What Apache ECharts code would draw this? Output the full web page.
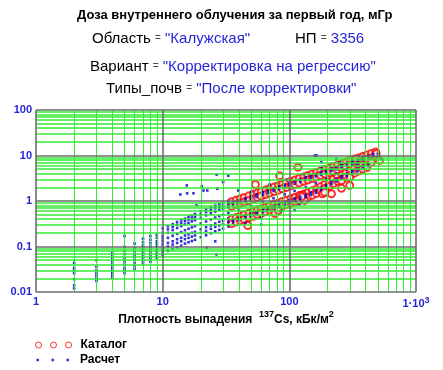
<!DOCTYPE html>
<html>
<head>
<meta charset="utf-8">
<script src="https://cdn.jsdelivr.net/npm/echarts@6/dist/echarts.min.js"></script>
<style>
html,body{margin:0;padding:0;background:#fff;}
#c{width:443px;height:370px;}
</style>
</head>
<body>
<div id="c"></div>
<script>
// ---------- texts ----------
const titleMain = 'Доза внутреннего облучения за первый год, мГр';
const regionKey = 'Область', regionVal = '"Калужская"';
const npKey = 'НП', npVal = '3356';
const variantKey = 'Вариант', variantVal = '"Корректировка на регрессию"';
const soilKey = 'Типы_почв', soilVal = '"После корректировки"';
const seriesNames = ['Каталог', 'Расчет'];

// ---------- tick labels ----------
const xTickValues = [1, 10, 100, 1000];
const xTickLabels = ['1', '10', '100', '{a|1·10}{s|3}'];
const yTickValues = [0.01, 0.1, 1, 10, 100];
const yTickLabels = ['0.01', '0.1', '1', '10', '100'];
const minorSteps = [2, 3, 4, 5, 6, 7, 8, 9];

// ---------- data: Каталог (red circles) ----------
const katalogUpper = [
[35,0.96],[35,0.76],[38,1.04],[38,0.83],[41,1.12],[41,0.89],[44,1.2],[44,0.95],[48,1.3],[48,1.03],
[52,1.4],[52,1.11],[56,1.51],[56,1.2],[60,1.61],[60,1.28],[65,1.75],[65,1.39],[70,1.87],[70,1.49],
[76,2.03],[76,1.61],[82,2.17],[82,1.73],[88,2.33],[88,1.85],[95,2.51],[95,1.99],[103,2.71],[103,2.15],
[111,2.91],[111,2.31],[120,3.15],[120,2.5],[130,3.39],[130,2.7],[140,3.65],[140,2.9],[152,3.94],[152,3.13],
[164,4.24],[164,3.37],[177,4.57],[177,3.63],[191,4.92],[191,3.91],[206,5.29],[206,4.2],[222,5.68],[222,4.51],
[240,6.13],[240,4.87],[260,6.61],[260,5.25],[280,7.1],[280,5.64],[302,7.64],[302,6.07],[326,8.23],[326,6.54],
[352,8.86],[352,7.04],[380,9.53],[380,7.57],[410,10.26],[410,8.15],[445,11.1],[445,8.82],[480,11.94],[480,9.49]
];
const katalogLower = [
[35,0.4],[35,0.318],[38,0.432],[38,0.344],[41,0.466],[41,0.37],[44,0.5],[44,0.397],[48,0.541],[48,0.43],
[52,0.582],[52,0.463],[56,0.627],[56,0.498],[60,0.672],[60,0.534],[65,0.728],[65,0.579],[70,0.784],[70,0.623],
[76,0.844],[76,0.671],[82,0.907],[82,0.721],[88,0.971],[88,0.772],[95,1.045],[95,0.83],[103,1.13],[103,0.9],
[111,1.21],[111,0.961],[120,1.31],[120,1.04],[130,1.41],[130,1.12],[140,1.52],[140,1.21],[152,1.68],[152,1.34],
[164,1.85],[164,1.47],[177,2.07],[177,1.65],[191,2.34],[191,1.86],[206,2.64],[206,2.1],[222,2.99],[222,2.38],
[240,3.4],[240,2.71],[260,3.77],[260,3.0],[280,4.18],[280,3.32],[302,4.63],[302,3.68],[326,5.14],[326,4.09],
[352,5.71],[352,4.54],[380,6.35],[380,5.05],[410,6.83],[410,5.43]
];
const katalogOutliers = [
[117,5.5],[84,3.6],[54,2.3],[77,0.53],[47,0.29],[122,1.33],[258,2.8],[300,3.3],[258,1.9],[300,2.2],
[215,1.44],[190,1.85],[183,1.44],[128,1.33],[485,10.9],[415,8.4],[515,7.8],[337,8.4],[445,7.1],[132,1.03],
[82,0.62],[190,1.56],[125,1.24]
];

// ---------- data: Расчет (blue dots) ----------
const raschetLow = [
[2,0.012],[2,0.014],[2,0.019],[2,0.026],[2,0.03],[2,0.034],[2,0.044],
[3,0.0175],[3,0.02],[3,0.023],[3,0.026],[3,0.03],[3,0.036],[3,0.05],
[4,0.0205],[4,0.023],[4,0.026],[4,0.029],[4,0.033],[4,0.037],[4,0.042],[4,0.048],[4,0.055],[4,0.064],[4,0.074],
[5,0.026],[5,0.03],[5,0.034],[5,0.04],[5,0.047],[5,0.055],[5,0.068],[5,0.08],[5,0.098],[5,0.17],
[6,0.032],[6,0.037],[6,0.043],[6,0.05],[6,0.058],[6,0.066],[6,0.078],[6,0.092],[6,0.116],
[7,0.042],[7,0.048],[7,0.055],[7,0.062],[7,0.07],[7,0.08],[7,0.09],[7,0.105],[7,0.125],[7,0.149],
[8,0.046],[8,0.053],[8,0.06],[8,0.068],[8,0.078],[8,0.088],[8,0.1],[8,0.118],[8,0.14],[8,0.17],
[9,0.055],[9,0.062],[9,0.07],[9,0.08],[9,0.09],[9,0.1],[9,0.115],[9,0.13],[9,0.155],[9,0.18],
[10,0.065],[10,0.075],[10,0.085],[10,0.094],[10,0.11],[10,0.13],[10,0.15],[10,0.17],[10,0.2],[10,0.25]
];
const raschetFan = [
[11,0.08],[11,0.1],[11,0.12],[11,0.155],[11,0.2],[11,0.24],[11,0.28],
[12,0.088],[12,0.11],[12,0.13],[12,0.172],[12,0.23],[12,0.27],[12,0.31],
[13,0.096],[13,0.12],[13,0.145],[13,0.19],[13,0.255],[13,0.3],[13,0.345],
[14,0.104],[14,0.13],[14,0.155],[14,0.207],[14,0.28],[14,0.33],[14,0.38],
[15,0.116],[15,0.145],[15,0.175],[15,0.228],[15,0.305],[15,0.36],[15,0.41],
[16,0.124],[16,0.155],[16,0.186],[16,0.245],[16,0.33],[16,0.39],[16,0.45],
[17,0.132],[17,0.165],[17,0.2],[17,0.263],[17,0.357],[17,0.42],[17,0.48],
[18,0.14],[18,0.175],[18,0.21],[18,0.28],[18,0.38],[18,0.45],[18,0.52],
[20,0.16],[20,0.2],[20,0.24],[20,0.32],[20,0.43],[20,0.51],[20,0.59],
[22,0.176],[22,0.22],[22,0.265],[22,0.354],[22,0.485],[22,0.57],[22,0.66],
[24,0.196],[24,0.245],[24,0.29],[24,0.393],[24,0.535],[24,0.63],[24,0.72],
[26,0.216],[26,0.27],[26,0.32],[26,0.432],[26,0.586],[26,0.69],[26,0.79],
[28,0.232],[28,0.29],[28,0.35],[28,0.466],[28,0.64],[28,0.75],[28,0.86],
[30,0.248],[30,0.31],[30,0.37],[30,0.498],[30,0.68],[30,0.8],[30,0.92],
[33,0.276],[33,0.345],[33,0.41],[33,0.548],[33,0.74],[33,0.87],[33,1.0]
];
const raschetUpper = [
[36,0.92],[36,0.82],[40,1.02],[40,0.91],[45,1.14],[45,1.01],[50,1.27],[50,1.13],[55,1.39],[55,1.23],
[62,1.56],[62,1.38],[68,1.7],[68,1.51],[75,1.87],[75,1.66],[83,2.07],[83,1.83],[92,2.28],[92,2.02],
[100,2.47],[100,2.19],[110,2.71],[110,2.4],[122,2.99],[122,2.65],[135,3.3],[135,2.92],[148,3.6],[148,3.19],
[162,3.93],[162,3.48],[178,4.3],[178,3.81],[195,4.7],[195,4.17],[215,5.17],[215,4.58],[235,5.63],[235,4.98],
[258,6.15],[258,5.45],[285,6.77],[285,6.0],[315,7.47],[315,6.61],[345,8.15],[345,7.22],[380,8.94],[380,7.91],
[420,9.85],[420,8.72],[460,10.7],[460,9.49],[500,11.0],[500,9.3]
];
const raschetLower = [
[36,0.385],[36,0.341],[40,0.426],[40,0.378],[45,0.477],[45,0.422],[50,0.529],[50,0.469],[55,0.578],[55,0.512],
[62,0.65],[62,0.576],[68,0.709],[68,0.628],[75,0.779],[75,0.69],[83,0.861],[83,0.763],[92,0.949],[92,0.841],
[100,1.03],[100,0.911],[110,1.13],[110,1.0],[122,1.25],[122,1.11],[135,1.38],[135,1.22],[148,1.53],[148,1.36],
[162,1.71],[162,1.52],[178,1.95],[178,1.73],[195,2.24],[195,1.98],[215,2.65],[215,2.34],[235,3.05],[235,2.7],
[258,3.52],[258,3.12],[285,3.98],[285,3.52],[315,4.53],[315,4.01],[345,5.09],[345,4.51],[380,5.95],[380,5.27],
[420,6.56],[420,5.81]
];
const raschetBetween = [
[40,0.629],[50,0.781],[62,0.959],[75,1.15],[92,1.4],[110,1.665],[135,2.03],[162,2.47],[195,3.09],[235,3.94],
[285,4.94],[345,6.13],[45,0.33],[60,0.43],[85,0.6],[120,0.85],[50,1.6],[70,2.3],[95,2.9],[130,3.9],[180,5.2],[250,7.0]
];
const raschetOutliers = [
[13.8,1.39],[15.5,2.2],[15.6,1.48],[17.5,1.48],[20.4,2.1],[21,1.7],[22.5,1.7],[26.7,3.8],[33,3.6],[30,2.6],
[27,1.85],[18.5,0.8],[26,0.13],[22.3,0.094],[39.5,1.7],[164,10],[235,8.4],[179,7.1],[530,8.4],[159,10],
[110,0.62],[60,0.3],[26.6,0.067]
];

const katalogData = katalogUpper.concat(katalogLower, katalogOutliers);
const raschetData = raschetLow.concat(raschetFan, raschetUpper, raschetLower, raschetBetween, raschetOutliers);

// ---------- styling ----------
const FF = 'Liberation Sans, Arial, sans-serif';
const BLUE_TXT = '#2626d8';
const GREEN = '#36ea36';
const GRAY = '#6e6e6e';
const RED = '#ff0000';
const DOT = '#0000d0';

// grid line values (through the axes)
const xMinor = [], yMinor = [];
[1, 10, 100].forEach(d => minorSteps.forEach(m => xMinor.push(d * m)));
[0.01, 0.1, 1, 10].forEach(d => minorSteps.forEach(m => yMinor.push(+(d * m).toPrecision(3))));

const gridLines = []
  .concat(xMinor.map(v => ({ xAxis: v, lineStyle: { color: GREEN, width: 1, type: 'solid' } })))
  .concat(yMinor.map(v => ({ yAxis: v, lineStyle: { color: GREEN, width: 1.6, type: 'solid' } })))
  .concat(xTickValues.map(v => ({ xAxis: v, lineStyle: { color: GRAY, width: 1.6, type: 'solid' } })))
  .concat(yTickValues.map(v => ({ yAxis: v, lineStyle: { color: GRAY, width: 1.6, type: 'solid' } })));

function labelFor(values, labels) {
  return function (v) {
    const e = Math.round(Math.log10(v));
    for (let i = 0; i < values.length; i++) {
      if (Math.round(Math.log10(values[i])) === e) return labels[i];
    }
    return '';
  };
}

const keyRich = {
  k: { fontSize: 15, color: '#000', fontFamily: FF },
  e: { fontSize: 10, color: '#444', fontFamily: FF },
  v: { fontSize: 15, color: BLUE_TXT, fontFamily: FF }
};
function kv(k, v) { return '{k|' + k + '} {e|=} {v|' + v + '}'; }

const chart = echarts.init(document.getElementById('c'), null, { renderer: 'canvas' });
chart.setOption({
  animation: false,
  backgroundColor: '#fff',
  textStyle: { fontFamily: FF },
  title: [
    { text: titleMain, left: 77, top: 9, padding: 0,
      textStyle: { fontSize: 13, fontWeight: 'bold', color: '#000', fontFamily: FF } },
    { text: kv(regionKey, regionVal), left: 92, top: 31, padding: 0,
      textStyle: { fontSize: 15, fontWeight: 'normal', rich: keyRich } },
    { text: kv(npKey, npVal), left: 295, top: 31, padding: 0,
      textStyle: { fontSize: 15, fontWeight: 'normal', rich: keyRich } },
    { text: kv(variantKey, variantVal), left: 90, top: 59, padding: 0,
      textStyle: { fontSize: 15, fontWeight: 'normal', rich: keyRich } },
    { text: kv(soilKey, soilVal), left: 106, top: 81, padding: 0,
      textStyle: { fontSize: 15, fontWeight: 'normal', rich: keyRich } }
  ],
  grid: { left: 36, right: 27, top: 110, bottom: 78, containLabel: false },
  xAxis: {
    type: 'log', logBase: 10, min: 1, max: 1000,
    axisLine: { show: false }, axisTick: { show: false }, splitLine: { show: false },
    axisLabel: {
      margin: 4, color: BLUE_TXT, fontSize: 11, fontWeight: 'bold', fontFamily: FF,
      formatter: labelFor(xTickValues, xTickLabels),
      rich: {
        a: { fontSize: 11, fontWeight: 'bold', color: BLUE_TXT, fontFamily: FF },
        s: { fontSize: 9, fontWeight: 'bold', color: BLUE_TXT, fontFamily: FF, verticalAlign: 'top', padding: [0, 0, 6, 0] }
      }
    },
    name: '{n|Плотность выпадения  }{s|137}{n|Cs, кБк/м}{s|2}',
    nameLocation: 'middle', nameGap: 13,
    nameTextStyle: {
      rich: {
        n: { fontSize: 12, fontWeight: 'bold', color: '#000', fontFamily: FF, padding: [6, 0, 0, 0] },
        s: { fontSize: 9, fontWeight: 'bold', color: '#000', fontFamily: FF, padding: [0, 0, 4, 0] }
      }
    }
  },
  yAxis: {
    type: 'log', logBase: 10, min: 0.01, max: 100,
    axisLine: { show: false }, axisTick: { show: false }, splitLine: { show: false },
    axisLabel: {
      margin: 4, color: BLUE_TXT, fontSize: 11, fontWeight: 'bold', fontFamily: FF,
      formatter: labelFor(yTickValues, yTickLabels)
    }
  },
  legend: [
    {
      orient: 'vertical', left: 35, top: 339, padding: 0, itemGap: 2,
      itemWidth: 36, itemHeight: 6,
      textStyle: { fontSize: 12, fontWeight: 'bold', color: '#000', fontFamily: FF, padding: [0, 0, 0, 4] },
      data: [{
        name: seriesNames[0],
        icon: 'path://M0,3a3,3 0 1,0 6,0a3,3 0 1,0 -6,0z M15,3a3,3 0 1,0 6,0a3,3 0 1,0 -6,0z M30,3a3,3 0 1,0 6,0a3,3 0 1,0 -6,0z',
        itemStyle: { color: 'rgba(0,0,0,0)', borderColor: RED, borderWidth: 1 }
      }]
    },
    {
      orient: 'vertical', left: 36.5, top: 354, padding: 0, itemGap: 2,
      itemWidth: 32.5, itemHeight: 2.5,
      textStyle: { fontSize: 12, fontWeight: 'bold', color: '#000', fontFamily: FF, padding: [0, 0, 0, 6] },
      data: [{
        name: seriesNames[1],
        icon: 'path://M0,0h2.5v2.5h-2.5z M15,0h2.5v2.5h-2.5z M30,0h2.5v2.5h-2.5z',
        itemStyle: { color: DOT, borderWidth: 0 }
      }]
    }
  ],
  series: [
    {
      name: '_grid', type: 'scatter', data: [], silent: true, z: 1,
      markLine: {
        silent: true, symbol: ['none', 'none'], label: { show: false },
        animation: false, precision: 4, data: gridLines,
        emphasis: { disabled: true }
      }
    },
    {
      name: seriesNames[0], type: 'scatter', z: 3,
      symbol: 'emptyCircle', symbolSize: 7,
      itemStyle: { color: RED, borderColor: RED, borderWidth: 1.6 },
      data: katalogData
    },
    {
      name: seriesNames[1], type: 'scatter', z: 4,
      symbol: 'rect', symbolSize: 2.6,
      itemStyle: { color: DOT },
      data: raschetData
    }
  ]
});
</script>
</body>
</html>
